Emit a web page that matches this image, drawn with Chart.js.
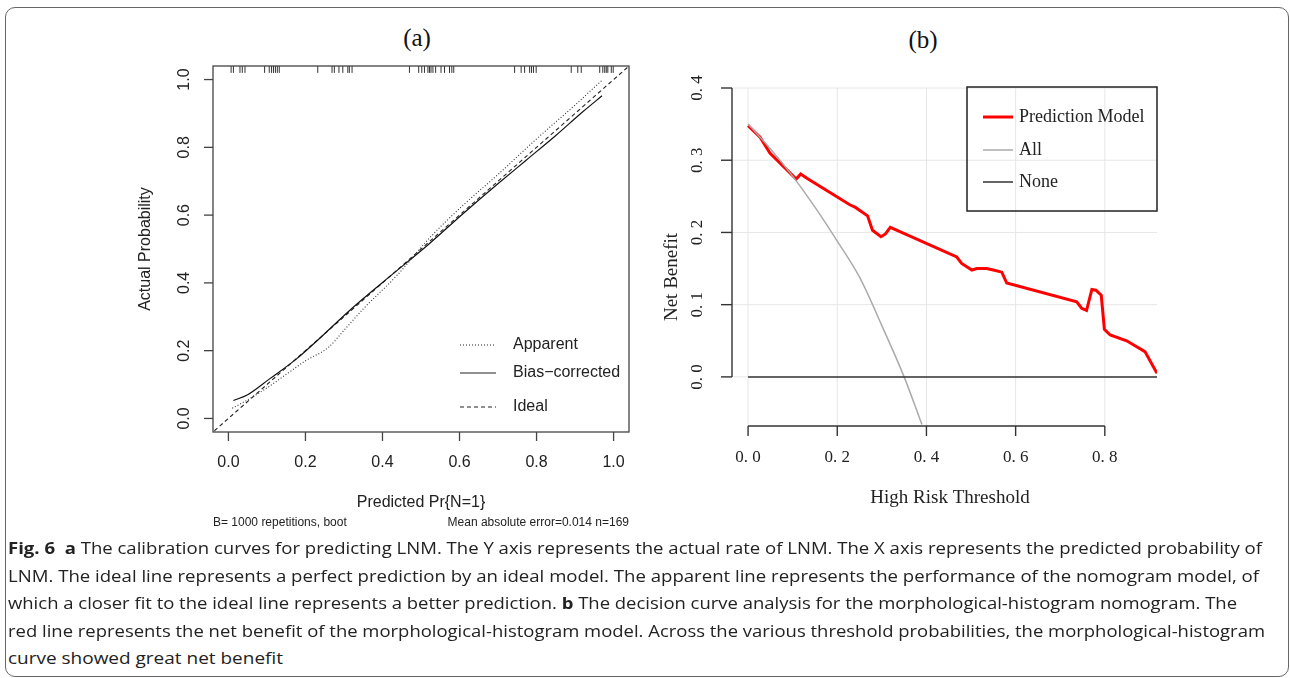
<!DOCTYPE html>
<html>
<head>
<meta charset="utf-8">
<script src="https://cdn.jsdelivr.net/npm/chart.js@4.4.0/dist/chart.umd.min.js"></script>
<style>
  body { margin: 0; background: #fff; width: 1290px; height: 678px; overflow: hidden; position: relative; }
  .frame { position: absolute; left: 5px; top: 7px; width: 1284px; height: 670px; box-sizing: border-box;
           border: 1.5px solid #666; border-radius: 10px; }
  .ptitle { position: absolute; font-family: "Liberation Serif", serif; font-size: 25px; color: #111;
            transform: translate(-50%, -50%); }
  canvas { position: absolute; top: 0; }
  .cap { position: absolute; left: 8px; white-space: nowrap; font-family: "Open Sans", sans-serif;
         font-size: 16.5px; line-height: 20px; color: #222; transform-origin: 0 0; }
  .cap b { font-weight: 700; }
</style>
</head>
<body>
<div class="frame"></div>
<div class="ptitle" style="left:417px;top:38px">(a)</div>
<div class="ptitle" style="left:923px;top:40px">(b)</div>
<canvas id="calib" width="650" height="540" style="left:0"></canvas>
<canvas id="dca" width="640" height="520" style="left:650px"></canvas>

<div class="cap" data-w="1254" style="top:538px"><b>Fig. 6&nbsp; a</b> The calibration curves for predicting LNM. The Y axis represents the actual rate of LNM. The X axis represents the predicted probability of</div>
<div class="cap" data-w="1251" style="top:566px">LNM. The ideal line represents a perfect prediction by an ideal model. The apparent line represents the performance of the nomogram model, of</div>
<div class="cap" data-w="1229" style="top:593px">which a closer fit to the ideal line represents a better prediction. <b>b</b> The decision curve analysis for the morphological-histogram nomogram. The</div>
<div class="cap" data-w="1257" style="top:621px">red line represents the net benefit of the morphological-histogram model. Across the various threshold probabilities, the morphological-histogram</div>
<div class="cap" data-w="275" style="top:648px">curve showed great net benefit</div>

<script>
// ---- (a) calibration data ----
const calTicks = [0, 0.2, 0.4, 0.6, 0.8, 1.0];

const apparentX = [0.01, 0.05, 0.10, 0.15, 0.20, 0.26, 0.30, 0.35, 0.44, 0.52, 0.61, 0.70, 0.80, 0.90, 0.97];
const apparentY = [0.03, 0.055, 0.09, 0.13, 0.17, 0.21, 0.26, 0.323, 0.425, 0.53, 0.63, 0.72, 0.825, 0.925, 0.998];

const biasX = [0.013, 0.05, 0.106, 0.176, 0.223, 0.314, 0.401, 0.52, 0.609, 0.695, 0.773, 0.85, 0.92, 0.97];
const biasY = [0.053, 0.07, 0.116, 0.175, 0.222, 0.318, 0.402, 0.514, 0.604, 0.688, 0.762, 0.835, 0.905, 0.952];

const idealX = [-0.05, 1.05];
const idealY = [-0.05, 1.05];

// predicted probabilities shown as rug at the top
const rugX = [0.007, 0.013, 0.030, 0.036, 0.043, 0.094, 0.106, 0.112, 0.117, 0.122, 0.127, 0.132,
  0.232, 0.269, 0.275, 0.287, 0.297, 0.310, 0.314, 0.321,
  0.470, 0.494, 0.502, 0.509, 0.518, 0.522, 0.526, 0.531, 0.538, 0.552, 0.561, 0.574, 0.580, 0.585,
  0.743, 0.760, 0.769, 0.782, 0.787, 0.792, 0.799,
  0.890, 0.907, 0.916, 0.964, 0.972, 0.977, 0.981, 0.985, 0.994, 0.999];

// ---- (b) decision curve data ----
const thresholdTicks = [0, 0.2, 0.4, 0.6, 0.8];
const benefitTicks = [0, 0.1, 0.2, 0.3, 0.4];

const thresholds = [0.0, 0.027, 0.049, 0.108, 0.118, 0.132, 0.229, 0.240, 0.268, 0.279, 0.298, 0.308, 0.319,
  0.468, 0.479, 0.502, 0.513, 0.535, 0.550, 0.569, 0.580, 0.737, 0.748, 0.759, 0.771, 0.780, 0.792,
  0.799, 0.812, 0.849, 0.890, 0.917];
const modelBenefit = [0.348, 0.332, 0.310, 0.274, 0.281, 0.275, 0.238, 0.235, 0.223, 0.203, 0.194, 0.198, 0.207,
  0.166, 0.157, 0.148, 0.150, 0.150, 0.148, 0.145, 0.130, 0.104, 0.095, 0.092, 0.121, 0.120, 0.113,
  0.066, 0.058, 0.050, 0.035, 0.005];

const allX = [0.0, 0.05, 0.10, 0.15, 0.20, 0.25, 0.30, 0.35, 0.39];
const allY = [0.350, 0.316, 0.278, 0.235, 0.188, 0.138, 0.071, 0.0, -0.066];

const noneX = [0.0, 0.917];
const noneY = [0.0, 0.0];

const pts = (xs, ys) => xs.map((v, i) => ({ x: v, y: ys[i] }));

function line(ctx, x1, y1, x2, y2) {
  ctx.beginPath(); ctx.moveTo(x1, y1); ctx.lineTo(x2, y2); ctx.stroke();
}
function vtext(ctx, txt, x, y) {
  ctx.save(); ctx.translate(x, y); ctx.rotate(-Math.PI / 2); ctx.fillText(txt, 0, 0); ctx.restore();
}

// R style box, axes and legend for (a)
const calibFrame = {
  id: 'calibFrame',
  afterDraw(chart) {
    const { ctx, chartArea: a, scales: { x, y } } = chart;
    ctx.save();
    ctx.strokeStyle = '#444'; ctx.lineWidth = 1.3;
    ctx.strokeRect(a.left, a.top, a.right - a.left, a.bottom - a.top);
    ctx.fillStyle = '#222';
    ctx.font = '16px "Liberation Sans", Arial, sans-serif';
    ctx.textAlign = 'center'; ctx.textBaseline = 'middle';
    calTicks.forEach(v => {
      const px = x.getPixelForValue(v);
      line(ctx, px, a.bottom, px, a.bottom + 9);
      ctx.fillText(v.toFixed(1), px, a.bottom + 31);
      const py = y.getPixelForValue(v);
      line(ctx, a.left - 9, py, a.left, py);
      vtext(ctx, v.toFixed(1), a.left - 28, py);
    });
    ctx.fillText('Predicted Pr{N=1}', (a.left + a.right) / 2, a.bottom + 71);
    vtext(ctx, 'Actual Probability', a.left - 67, (a.top + a.bottom) / 2);

    ctx.font = '12px "Liberation Sans", Arial, sans-serif';
    ctx.textAlign = 'left';
    ctx.fillText('B= 1000 repetitions, boot', a.left, a.bottom + 91);
    ctx.textAlign = 'right';
    ctx.fillText('Mean absolute error=0.014 n=169', a.right, a.bottom + 91);

    // legend
    const items = [['Apparent', [1, 2], 345], ['Bias\u2212corrected', [], 373], ['Ideal', [4, 3], 407]];
    ctx.font = '16px "Liberation Sans", Arial, sans-serif';
    ctx.textAlign = 'left';
    ctx.lineWidth = 1.1; ctx.strokeStyle = '#222';
    items.forEach(([t, dash, ly]) => {
      ctx.setLineDash(dash);
      line(ctx, 460, ly, 496, ly);
      ctx.setLineDash([]);
      ctx.fillText(t, 513, ly);
    });
    ctx.restore();
  }
};

new Chart(document.getElementById('calib'), {
  type: 'line',
  data: {
    datasets: [
      { data: pts(apparentX, apparentY), borderColor: '#333', borderWidth: 1.1, borderDash: [1, 2],
        pointRadius: 0, cubicInterpolationMode: 'monotone' },
      { data: pts(biasX, biasY), borderColor: '#111', borderWidth: 1.2,
        pointRadius: 0, cubicInterpolationMode: 'monotone' },
      { data: pts(idealX, idealY), borderColor: '#222', borderWidth: 1.1, borderDash: [4, 3], pointRadius: 0 },
      { data: rugX.map(v => ({ x: v, y: 1.03 })), showLine: false, pointStyle: 'line', rotation: 90,
        pointRadius: 3.5, borderColor: '#333', borderWidth: 1 }
    ]
  },
  options: {
    responsive: false, animation: false,
    layout: { padding: { left: 213, top: 66, right: 21, bottom: 108 } },
    plugins: { legend: { display: false }, tooltip: { enabled: false } },
    scales: {
      x: { type: 'linear', min: -0.04, max: 1.04, display: false },
      y: { type: 'linear', min: -0.04, max: 1.04, display: false }
    }
  },
  plugins: [calibFrame]
});

// grid, axes and legend for (b)
const fmtB = v => v.toFixed(1).replace('.', '. ');
const dcaFrame = {
  id: 'dcaFrame',
  beforeDatasetsDraw(chart) {
    const { ctx, chartArea: a, scales: { x, y } } = chart;
    ctx.save();
    ctx.strokeStyle = '#e6e6e6'; ctx.lineWidth = 1;
    thresholdTicks.forEach(v => { const px = x.getPixelForValue(v); line(ctx, px, a.top, px, a.bottom); });
    benefitTicks.forEach(v => { const py = y.getPixelForValue(v); line(ctx, a.left, py, a.right, py); });
    ctx.restore();
  },
  afterDraw(chart) {
    const { ctx, chartArea: a, scales: { x, y } } = chart;
    ctx.save();
    ctx.strokeStyle = '#333'; ctx.lineWidth = 1.4; ctx.fillStyle = '#222';
    ctx.font = '17px "Liberation Serif", "Times New Roman", serif';
    ctx.textAlign = 'center'; ctx.textBaseline = 'middle';
    line(ctx, x.getPixelForValue(0), a.bottom, x.getPixelForValue(0.8), a.bottom);
    thresholdTicks.forEach(v => {
      const px = x.getPixelForValue(v);
      line(ctx, px, a.bottom, px, a.bottom + 10);
      ctx.fillText(fmtB(v), px, a.bottom + 32);
    });
    line(ctx, a.left, y.getPixelForValue(0), a.left, y.getPixelForValue(0.4));
    benefitTicks.forEach(v => {
      const py = y.getPixelForValue(v);
      line(ctx, a.left - 11, py, a.left, py);
      vtext(ctx, fmtB(v), a.left - 34, py);
    });
    ctx.font = '19px "Liberation Serif", "Times New Roman", serif';
    ctx.fillText('High Risk Threshold', 300, a.bottom + 72);
    vtext(ctx, 'Net Benefit', a.left - 60, 277);

    // legend box
    ctx.lineWidth = 1.5; ctx.strokeStyle = '#222';
    ctx.strokeRect(317, 87, 190, 124);
    ctx.font = '18px "Liberation Serif", "Times New Roman", serif';
    ctx.textAlign = 'left';
    const items = [['Prediction Model', '#ff0000', 3, 117], ['All', '#aaaaaa', 1.5, 150], ['None', '#333', 1.5, 182]];
    items.forEach(([t, c, w, ly]) => {
      ctx.strokeStyle = c; ctx.lineWidth = w;
      line(ctx, 333, ly, 363, ly);
      ctx.fillText(t, 369, ly);
    });
    ctx.restore();
  }
};

new Chart(document.getElementById('dca'), {
  type: 'line',
  data: {
    datasets: [
      { data: pts(noneX, noneY), borderColor: '#333', borderWidth: 1.5, pointRadius: 0 },
      { data: pts(allX, allY), borderColor: '#aaaaaa', borderWidth: 1.5, pointRadius: 0,
        cubicInterpolationMode: 'monotone' },
      { data: pts(thresholds, modelBenefit), borderColor: '#ff0000', borderWidth: 3, pointRadius: 0 }
    ]
  },
  options: {
    responsive: false, animation: false,
    layout: { padding: { left: 82, top: 88, right: 133, bottom: 94 } },
    plugins: { legend: { display: false }, tooltip: { enabled: false } },
    scales: {
      x: { type: 'linear', min: -0.036, max: 0.917, display: false },
      y: { type: 'linear', min: -0.068, max: 0.4, display: false }
    }
  },
  plugins: [dcaFrame]
});

// fit caption lines to their widths
document.querySelectorAll('.cap').forEach(el => {
  const w = el.getBoundingClientRect().width;
  const target = +el.dataset.w;
  el.style.transform = 'scaleX(' + (target / w).toFixed(4) + ')';
});
</script>
</body>
</html>
